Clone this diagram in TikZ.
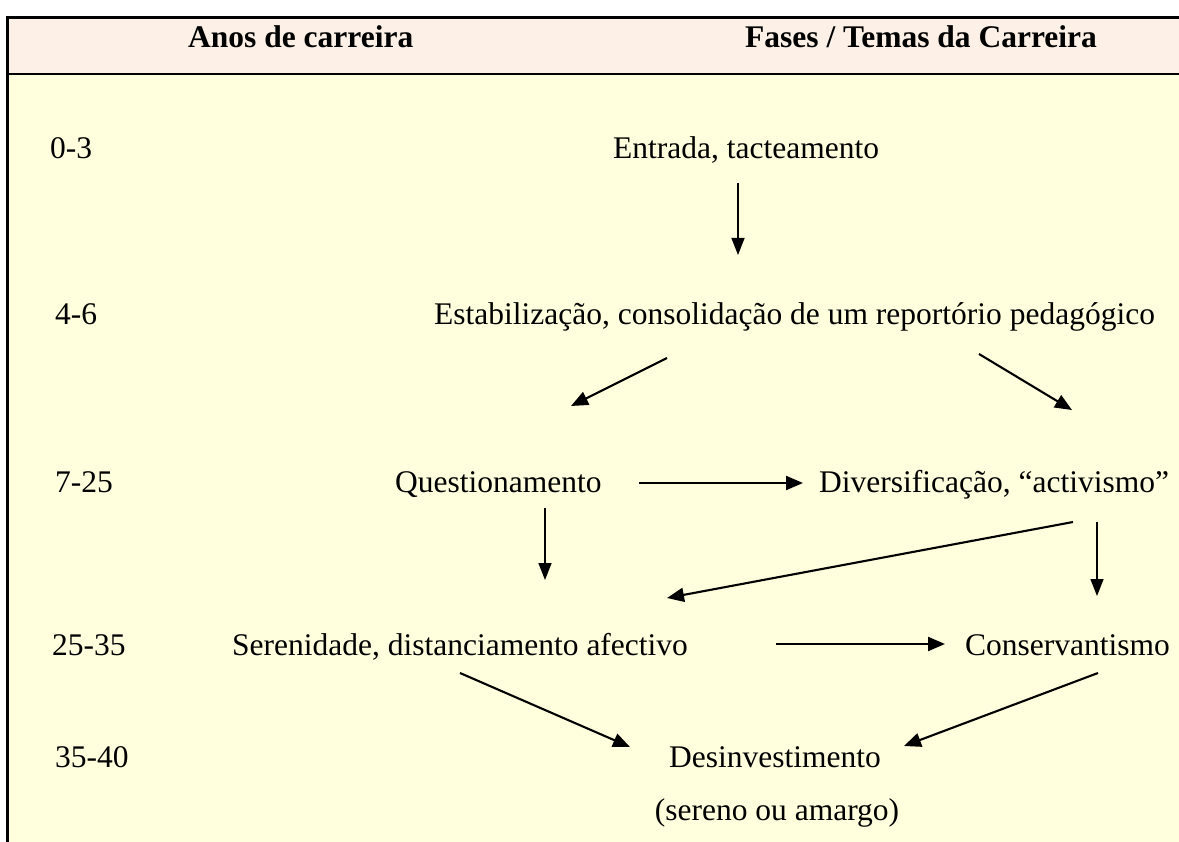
\documentclass[tikz,border=0pt]{standalone}
\usepackage{fontspec}
\setmainfont{Liberation Serif}
\usetikzlibrary{arrows.meta}
\definecolor{headfill}{RGB}{253,241,231}
\definecolor{bodyfill}{RGB}{255,255,221}
\tikzset{
  lbl/.style={anchor=base west,inner sep=0pt,font=\fontsize{31.5}{38}\selectfont},
  lblc/.style={anchor=base,inner sep=0pt,font=\fontsize{31.5}{38}\selectfont},
  hdr/.style={anchor=base west,inner sep=0pt,font=\fontsize{31.5}{38}\selectfont\bfseries},
  arr/.style={line width=2.1pt,-{Triangle[length=17pt,width=14pt]}},
  varr/.style={line width=1.5pt,-{Triangle[length=17pt,width=13pt]}},
  frame/.style={line width=2.2pt}
}
\begin{document}
\begin{tikzpicture}[x=1pt,y=-1pt]
\useasboundingbox (0,0) rectangle (1179,842);
% backgrounds
\fill[headfill] (7,17) rectangle (1179,74);
\fill[bodyfill] (7,74) rectangle (1179,842);
% frame lines
\draw[frame] (6.5,17.5) -- (1179,17.5);
\draw[frame] (6.5,74) -- (1179,74);
\draw[frame] (7.5,16.4) -- (7.5,842);
% header
\node[hdr] (h1) at (188,48) {Anos de carreira};
\node[hdr] (h2) at (745,48) {Fases / Temas da Carreira};
% years
\node[lbl] (y1) at (50,159) {0-3};
\node[lbl] (y2) at (55,325) {4-6};
\node[lbl] (y3) at (55,492) {7-25};
\node[lbl] (y4) at (52,655) {25-35};
\node[lbl] (y5) at (55,767) {35-40};
% phases
\node[lbl] (ent) at (613,159) {Entrada, tacteamento};
\node[lbl] (est) at (434,325) {Estabilização, consolidação de um reportório pedagógico};
\node[lbl] (que) at (395,492) {Questionamento};
\node[lbl] (div) at (819,492) {Diversificação, “activismo”};
\node[lbl] (ser) at (232,655) {Serenidade, distanciamento afectivo};
\node[lbl] (con) at (965,655) {Conservantismo};
\node[lblc] (des) at (775,767) {Desinvestimento};
\node[lblc] (des2) at (777,820) {(sereno ou amargo)};
% arrow end points
\coordinate (a1s) at (738,183);  \coordinate (a1e) at (738,255);
\coordinate (a2s) at (667,358);  \coordinate (a2e) at (571,406);
\coordinate (a3s) at (979,354);  \coordinate (a3e) at (1072,410);
\coordinate (a4s) at (639,483);  \coordinate (a4e) at (803,483);
\coordinate (a5s) at (545,508);  \coordinate (a5e) at (545,580);
\coordinate (a6s) at (1073,522); \coordinate (a6e) at (667,598);
\coordinate (a7s) at (1097,522); \coordinate (a7e) at (1097,596);
\coordinate (a8s) at (776,644);  \coordinate (a8e) at (945,644);
\coordinate (a9s) at (460,673);  \coordinate (a9e) at (630,747);
\coordinate (a10s) at (1098,673); \coordinate (a10e) at (904,746);
% arrows
\draw[varr] (a1s) -- (a1e);
\draw[arr] (a2s) -- (a2e);
\draw[arr] (a3s) -- (a3e);
\draw[arr] (a4s) -- (a4e);
\draw[varr] (a5s) -- (a5e);
\draw[arr] (a6s) -- (a6e);
\draw[varr] (a7s) -- (a7e);
\draw[arr] (a8s) -- (a8e);
\draw[arr] (a9s) -- (a9e);
\draw[arr] (a10s) -- (a10e);
\end{tikzpicture}
\end{document}
